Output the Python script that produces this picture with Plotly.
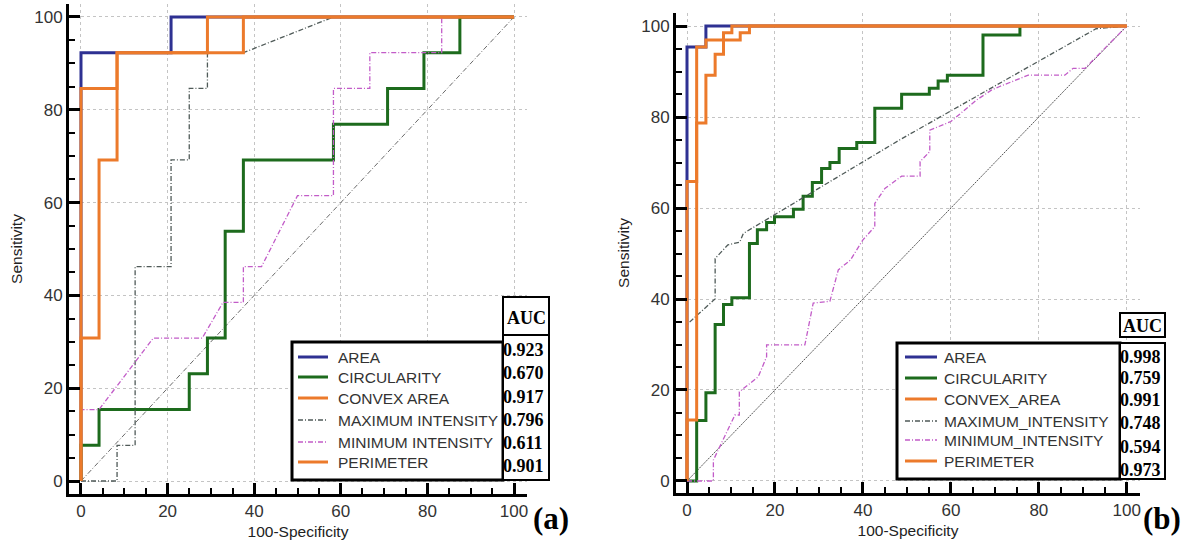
import plotly.graph_objects as go

W, H = 1204, 547
SANS = "Liberation Sans, Arial, sans-serif"
SERIF = "Liberation Serif, Times New Roman, serif"

# ---------------- data ----------------
NAMES_A = ["AREA", "CIRCULARITY", "CONVEX AREA", "MAXIMUM INTENSITY", "MINIMUM INTENSITY", "PERIMETER"]
NAMES_B = ["AREA", "CIRCULARITY", "CONVEX_AREA", "MAXIMUM_INTENSITY", "MINIMUM_INTENSITY", "PERIMETER"]
AUC_A = ["0.923", "0.670", "0.917", "0.796", "0.611", "0.901"]
AUC_B = ["0.998", "0.759", "0.991", "0.748", "0.594", "0.973"]
TICKS = [0, 20, 40, 60, 80, 100]
DIAG = [0, 100]

# panel (a)
area_a_x = [0, 0, 20.8, 20.8, 100]
area_a_y = [0, 92.3, 92.3, 100, 100]
circ_a_x = [0, 0, 4.17, 4.17, 25, 25, 29.2, 29.2, 33.3, 33.3, 37.5, 37.5, 58.3, 58.3, 70.8, 70.8, 79.2, 79.2, 87.5, 87.5, 100]
circ_a_y = [0, 7.7, 7.7, 15.4, 15.4, 23.1, 23.1, 30.8, 30.8, 53.8, 53.8, 69.2, 69.2, 76.9, 76.9, 84.6, 84.6, 92.3, 92.3, 100, 100]
conv_a_x = [0, 0, 8.33, 8.33, 37.5, 37.5, 100]
conv_a_y = [0, 84.6, 84.6, 92.3, 92.3, 100, 100]
maxi_a_x = [0, 8.33, 8.33, 12.5, 12.5, 20.8, 20.8, 25, 25, 29.2, 29.2, 37.5, 58.3, 100]
maxi_a_y = [0, 0, 7.7, 7.7, 46.2, 46.2, 69.2, 69.2, 84.6, 84.6, 92.3, 92.3, 100, 100]
mini_a_x = [0, 0, 4.17, 16.7, 28.0, 32.8, 37.5, 37.5, 41.7, 50.0, 58.3, 58.3, 66.7, 66.7, 83.3, 83.3, 100]
mini_a_y = [0, 15.4, 15.4, 30.8, 30.8, 38.5, 38.5, 46.2, 46.2, 61.5, 61.5, 84.6, 84.6, 92.3, 92.3, 100, 100]
peri_a_x = [0, 0, 4.17, 4.17, 8.33, 8.33, 29.2, 29.2, 100]
peri_a_y = [0, 30.8, 30.8, 69.2, 69.2, 92.3, 92.3, 100, 100]

# panel (b)
area_b_x = [0, 0, 4.3, 4.3, 100]
area_b_y = [0, 95.4, 95.4, 100, 100]
circ_b_x = [0, 2.2, 2.2, 4.3, 4.3, 6.4, 6.4, 8.3, 8.3, 10.2, 10.2, 14.2, 14.2, 16.0, 16.0, 18.1, 18.1,
            19.9, 19.9, 24.2, 24.2, 26.4, 26.4, 28.5, 28.5, 30.6, 30.6, 32.5, 32.5, 34.6, 34.6, 38.6,
            38.6, 42.7, 42.7, 48.8, 48.8, 55.1, 55.1, 57.1, 57.1, 59.2, 59.2, 67.3, 67.3, 75.7, 75.7]
circ_b_y = [0, 0, 13.3, 13.3, 19.4, 19.4, 34.4, 34.4, 38.8, 38.8, 40.3, 40.3, 52.2, 52.2, 55.2, 55.2, 56.8,
            56.8, 58.1, 58.1, 59.7, 59.7, 62.6, 62.6, 65.6, 65.6, 68.7, 68.7, 70.0, 70.0, 73.1, 73.1,
            74.4, 74.4, 81.9, 81.9, 85.0, 85.0, 86.3, 86.3, 87.9, 87.9, 89.2, 89.2, 98.0, 98.0, 100]
conv_b_x = [0, 0, 2.2, 2.2, 4.3, 4.3, 8.3, 8.3, 10.2, 10.2, 100]
conv_b_y = [0, 65.8, 65.8, 95.4, 95.4, 96.9, 96.9, 98.5, 98.5, 100, 100]
maxi_b_x = [0, 0, 5.9, 6.4, 6.4, 9.3, 12.0, 12.8, 48.4, 93.0, 100]
maxi_b_y = [0, 34.4, 39.6, 40.0, 48.9, 51.9, 52.5, 54.4, 75.0, 99.4, 100]
mini_b_x = [0, 6.0, 6.0, 8.3, 10.9, 11.9, 11.9, 16.2, 18.1, 18.1, 26.8, 28.7, 32.5, 34.4, 37.2, 40.0, 42.7,
            42.7, 45.0, 48.8, 53.0, 53.0, 55.2, 55.2, 60.0, 65.8, 69.2, 71.1, 77.6, 85.9, 87.8, 90.5, 100]
mini_b_y = [0, 0, 4.6, 9.3, 14.5, 14.5, 19.6, 22.9, 27.3, 29.9, 29.9, 39.1, 39.5, 46.4, 48.6, 53.0, 55.9,
            61.0, 64.3, 67.0, 67.0, 70.2, 72.4, 77.1, 79.0, 83.7, 85.9, 86.7, 89.2, 89.2, 90.7, 90.7, 100]
peri_b_x = [0, 0, 2.2, 2.2, 4.3, 4.3, 6.4, 6.4, 8.3, 8.3, 12.1, 12.1, 14.2, 14.2, 100]
peri_b_y = [0, 13.4, 13.4, 78.7, 78.7, 89.2, 89.2, 93.8, 93.8, 96.9, 96.9, 98.5, 98.5, 100, 100]

SERIES_A = [(area_a_x, area_a_y), (circ_a_x, circ_a_y), (conv_a_x, conv_a_y),
            (maxi_a_x, maxi_a_y), (mini_a_x, mini_a_y), (peri_a_x, peri_a_y)]
SERIES_B = [(area_b_x, area_b_y), (circ_b_x, circ_b_y), (conv_b_x, conv_b_y),
            (maxi_b_x, maxi_b_y), (mini_b_x, mini_b_y), (peri_b_x, peri_b_y)]

# ---------------- styles ----------------
ORANGE = "#ec7a2b"
STYLES = [
    dict(color="#2e3192", width=3, dash="solid"),
    dict(color="#1d6b1d", width=3, dash="solid"),
    dict(color=ORANGE, width=3, dash="solid"),
    dict(color="#4f5a58", width=1.3, dash="5px,2px,1px,2px"),
    dict(color="#c25cc8", width=1.3, dash="5px,2px,1px,2px"),
    dict(color=ORANGE, width=3, dash="solid"),
]
DRAW_ORDER = [0, 1, 3, 4, 2, 5]


def px(x):
    return x / W


def py(y):
    return 1 - y / H


fig = go.Figure()

# reference diagonals
fig.add_trace(go.Scatter(x=DIAG, y=DIAG, mode="lines", xaxis="x", yaxis="y", showlegend=False,
                         hoverinfo="skip", line=dict(color="#6a6a6a", width=1, dash="5px,2px,1px,2px")))
fig.add_trace(go.Scatter(x=DIAG, y=DIAG, mode="lines", xaxis="x2", yaxis="y2", showlegend=False,
                         hoverinfo="skip", line=dict(color="#555555", width=1, dash="2px,1px")))

for i in DRAW_ORDER:
    xs, ys = SERIES_A[i]
    fig.add_trace(go.Scatter(x=xs, y=ys, mode="lines", name=NAMES_A[i], xaxis="x", yaxis="y",
                             showlegend=False, line=STYLES[i]))
for i in DRAW_ORDER:
    xs, ys = SERIES_B[i]
    fig.add_trace(go.Scatter(x=xs, y=ys, mode="lines", name=NAMES_B[i], xaxis="x2", yaxis="y2",
                             showlegend=False, line=STYLES[i]))

axis_common = dict(
    showline=True, linecolor="black", linewidth=3, mirror=False,
    ticks="inside", ticklen=11, tickwidth=2.5, tickcolor="black",
    tickmode="array", tickvals=TICKS,
    showgrid=True, gridcolor="#c4c4c4", griddash="dot", gridwidth=1,
    zeroline=False, fixedrange=True,
    tickfont=dict(family=SANS, size=17, color="#333333"),
    minor=dict(tickmode="linear", tick0=0, dtick=5, ticks="inside", ticklen=6,
               tickwidth=1.5, tickcolor="black", showgrid=False),
)
title_font = dict(family=SANS, size=15.5, color="#222222")

fig.update_layout(
    width=W, height=H,
    margin=dict(l=0, r=0, t=0, b=0),
    paper_bgcolor="white", plot_bgcolor="white",
    showlegend=False,
    xaxis=dict(axis_common, domain=[px(69), px(527)], range=[-2.77, 103.0], anchor="y",
               title=dict(text="100-Specificity", font=title_font, standoff=6)),
    yaxis=dict(axis_common, domain=[py(494), py(4)], range=[-2.8, 102.8], anchor="x",
               title=dict(text="Sensitivity", font=title_font, standoff=8)),
    xaxis2=dict(axis_common, domain=[px(676), px(1140)], range=[-2.5, 103.0], anchor="y2",
                title=dict(text="100-Specificity", font=title_font, standoff=6)),
    yaxis2=dict(axis_common, domain=[py(493), py(13)], range=[-2.64, 102.86], anchor="x2",
                title=dict(text="Sensitivity", font=title_font, standoff=8)),
)

shapes = []
annotations = []


def rect(x0, y0, x1, y1, w):
    shapes.append(dict(type="rect", xref="paper", yref="paper", x0=px(x0), x1=px(x1),
                       y0=py(y1), y1=py(y0), line=dict(color="black", width=w),
                       fillcolor="white", layer="above"))


def legend_block(names, aucs, box, hdr, vals, sample_x, text_x, rows, auc_rows, auc_x, hdr_y):
    rect(*box, 3)
    rect(*hdr, 2)
    rect(*vals, 2)
    for i, name in enumerate(names):
        st = STYLES[i]
        shapes.append(dict(type="line", xref="paper", yref="paper",
                           x0=px(sample_x[0]), x1=px(sample_x[1]), y0=py(rows[i]), y1=py(rows[i]),
                           line=dict(color=st["color"], width=st["width"], dash=st["dash"]),
                           layer="above"))
        annotations.append(dict(xref="paper", yref="paper", x=px(text_x), y=py(rows[i]),
                                xanchor="left", yanchor="middle", showarrow=False, text=name,
                                font=dict(family=SANS, size=15.5, color="#333333")))
        annotations.append(dict(xref="paper", yref="paper", x=px(auc_x), y=py(auc_rows[i]),
                                xanchor="left", yanchor="middle", showarrow=False,
                                text="<b>%s</b>" % aucs[i],
                                font=dict(family=SERIF, size=18, color="black")))
    annotations.append(dict(xref="paper", yref="paper", x=px((hdr[0] + hdr[2]) / 2), y=py(hdr_y),
                            xanchor="center", yanchor="middle", showarrow=False, text="<b>AUC</b>",
                            font=dict(family=SERIF, size=18, color="black")))


legend_block(NAMES_A, AUC_A, box=(292, 342, 503, 480), hdr=(503, 297, 549, 335),
             vals=(503, 335, 549, 480), sample_x=(298, 328), text_x=336,
             rows=[357, 377, 398, 420, 442, 462], auc_rows=[350, 373, 397, 420, 443, 466],
             auc_x=501, hdr_y=318)
legend_block(NAMES_B, AUC_B, box=(897, 343, 1120, 479), hdr=(1120, 313, 1165, 337),
             vals=(1120, 343, 1165, 479), sample_x=(905, 937), text_x=942,
             rows=[357, 378, 399, 421, 440, 461], auc_rows=[357, 378, 400, 423, 447, 470],
             auc_x=1118, hdr_y=326)

annotations.append(dict(xref="paper", yref="paper", x=px(551), y=py(518), xanchor="center",
                        yanchor="middle", showarrow=False, text="<b>(a)</b>",
                        font=dict(family=SERIF, size=31, color="black")))
annotations.append(dict(xref="paper", yref="paper", x=px(1162), y=py(518), xanchor="center",
                        yanchor="middle", showarrow=False, text="<b>(b)</b>",
                        font=dict(family=SERIF, size=31, color="black")))

fig.update_layout(shapes=shapes, annotations=annotations)
fig.write_html("out.html", config={"displayModeBar": False},
               post_script="document.body.style.margin='0';document.body.style.overflow='hidden';")
